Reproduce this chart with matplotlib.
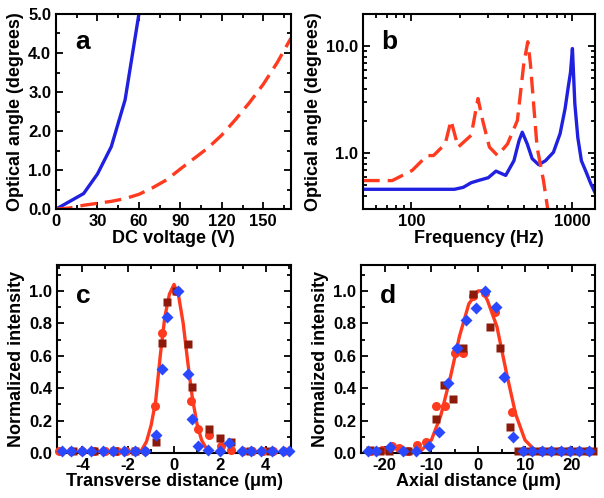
import matplotlib
matplotlib.use("Agg")
import matplotlib.pyplot as plt
from matplotlib.ticker import MultipleLocator, LogLocator, FixedLocator, FormatStrFormatter, NullFormatter

plt.rcParams['font.family'] = ['Liberation Sans', 'DejaVu Sans']
plt.rcParams['font.weight'] = 'bold'
plt.rcParams['axes.labelweight'] = 'bold'
plt.rcParams['axes.unicode_minus'] = False

# panel a: DC response
a_blue_v = [0, 20, 30, 40, 50, 60]
a_blue_ang = [0.0, 0.4, 0.9, 1.6, 2.8, 5.0]
a_red_v = [0, 10, 20, 30, 40, 50, 60, 70, 80, 90, 100, 110, 120, 130, 140, 150, 160, 170]
a_red_ang = [0.0, 0.03, 0.1, 0.15, 0.2, 0.27, 0.38, 0.55, 0.75, 1.03, 1.3, 1.57, 1.9, 2.3, 2.73, 3.2, 3.75, 4.38]

# panel b: frequency response
b_blue_f = [50, 100, 150, 185, 210, 235, 265, 300, 335, 385, 433, 466, 488, 524, 562, 617, 680,
            762, 838, 900, 942, 973, 1000, 1035, 1080, 1137, 1220, 1300, 1380]
b_blue_ang = [0.46, 0.46, 0.46, 0.46, 0.48, 0.53, 0.56, 0.59, 0.68, 0.62, 0.85, 1.31, 1.57, 1.22, 0.89,
              0.78, 0.85, 1.02, 1.52, 2.6, 4.16, 5.7, 9.5, 2.9, 1.4, 0.85, 0.66, 0.52, 0.43]
b_red_f = [50, 76, 101, 125, 137, 162, 176, 195, 235, 259, 277, 305, 343, 395, 455, 499, 528, 548,
           603, 661, 700, 740]
b_red_ang = [0.555, 0.555, 0.69, 0.95, 0.95, 1.22, 2.02, 1.14, 1.47, 3.24, 2.02, 1.14, 0.95, 1.22,
             2.02, 6.9, 11.0, 6.9, 1.14, 0.555, 0.31, 0.2]

# panel c: transverse profile
c_circ_x = [-5.0, -4.5, -4.0, -3.5, -3.0, -2.5, -2.1, -1.7, -1.25, -0.85, -0.53, 0.1, 0.74, 1.05,
            1.52, 2.03, 2.47, 3.0, 3.4, 3.9, 4.3, 4.8]
c_circ_y = [0.01, 0.01, 0.01, 0.01, 0.01, 0.01, 0.01, 0.01, 0.01, 0.29, 0.74, 1.0, 0.32, 0.15,
            0.11, 0.04, 0.02, 0.01, 0.01, 0.01, 0.01, 0.01]
c_sq_x = [-4.4, -3.5, -2.6, -1.7, -0.79, -0.53, -0.31, 0.1, 0.61, 0.79, 1.52, 1.99, 2.47, 3.3, 4.2]
c_sq_y = [0.01, 0.01, 0.01, 0.01, 0.07, 0.68, 0.93, 1.0, 0.67, 0.41, 0.15, 0.09, 0.07, 0.01, 0.01]
c_dia_x = [-4.9, -4.47, -4.03, -3.6, -3.08, -2.64, -2.18, -1.69, -1.26, -0.79, -0.53, -0.31, 0.16,
           0.61, 0.79, 1.05, 1.47, 1.99, 2.39, 2.98, 3.34, 3.78, 4.29, 4.73, 5.02]
c_dia_y = [0.01, 0.01, 0.015, 0.01, 0.01, 0.01, 0.015, 0.01, 0.01, 0.11, 0.52, 0.84, 1.0, 0.49,
           0.21, 0.04, 0.02, 0.01, 0.06, 0.01, 0.015, 0.01, 0.01, 0.01, 0.01]
c_fit_x = [-1.6, -1.4, -1.2, -1.0, -0.8, -0.6, -0.4, -0.2, 0.0, 0.2, 0.4, 0.6, 0.8, 1.0, 1.2, 1.4, 1.6]
c_fit_y = [0.0, 0.02, 0.07, 0.17, 0.32, 0.6, 0.84, 0.98, 1.04, 0.97, 0.8, 0.56, 0.34, 0.18, 0.08, 0.03, 0.0]

# panel d: axial profile
d_circ_x = [-23.0, -20.5, -18.5, -16.9, -15.0, -13.1, -11.1, -9.1, -7.1, -5.0, -3.2, -1.2, 1.4, 3.5,
            7.14, 9.5, 11.5, 13.5, 15.5, 17.5, 19.5, 21.5, 23.5]
d_circ_y = [0.01, 0.02, 0.04, 0.03, 0.01, 0.05, 0.07, 0.29, 0.29, 0.62, 0.62, 0.97, 0.99, 0.87,
            0.255, 0.01, 0.01, 0.01, 0.01, 0.01, 0.01, 0.01, 0.01]
d_sq_x = [-23.2, -21.0, -19.0, -15.0, -9.1, -7.3, -5.4, -3.2, -1.2, 2.5, 4.64, 6.8, 8.6, 10.6, 12.6,
          14.6, 16.6, 18.6, 20.6, 22.6, 24.6]
d_sq_y = [0.02, 0.01, 0.01, 0.01, 0.21, 0.42, 0.33, 0.65, 0.98, 0.78, 0.65, 0.16, 0.01, 0.01, 0.01,
          0.01, 0.01, 0.01, 0.01, 0.01, 0.01]
d_dia_x = [-23.5, -21.8, -18.9, -16.1, -13.2, -10.5, -8.4, -6.4, -4.5, -2.5, -0.5, 1.43, 3.7, 5.57,
           7.5, 9.6, 11.6, 13.6, 15.6, 17.6, 19.6, 21.6, 23.6]
d_dia_y = [0.01, 0.015, 0.035, 0.01, 0.01, 0.04, 0.13, 0.43, 0.65, 0.82, 0.895, 1.0, 0.9, 0.47,
           0.1, 0.01, 0.01, 0.01, 0.01, 0.01, 0.01, 0.01, 0.01]
d_fit_x = [-14, -12, -10, -8, -6, -4, -2, 0, 1, 2, 4, 6, 8, 10, 12, 14]
d_fit_y = [0.0, 0.02, 0.08, 0.23, 0.46, 0.72, 0.92, 1.0, 1.0, 0.94, 0.78, 0.5, 0.24, 0.08, 0.02, 0.0]

BLUE = '#2020e0'
RED = '#ff3a1f'
DARKRED = '#8b1a0a'
DIA = '#2a48ff'

fig = plt.figure(figsize=(6.04, 4.98), dpi=100)
ax_a = fig.add_axes([0.0927, 0.580, 0.389, 0.392])
ax_b = fig.add_axes([0.601, 0.580, 0.384, 0.392])
ax_c = fig.add_axes([0.0944, 0.0904, 0.3874, 0.3775])
ax_d = fig.add_axes([0.598, 0.0904, 0.3874, 0.3775])

for ax in (ax_a, ax_b, ax_c, ax_d):
    for s in ax.spines.values():
        s.set_linewidth(1.5)
    ax.tick_params(which='both', direction='in', top=True, right=True, width=1.3, labelsize=12)
    ax.tick_params(which='major', length=5)
    ax.tick_params(which='minor', length=3)

# a
ax_a.plot(a_blue_v, a_blue_ang, color=BLUE, lw=2.4)
ax_a.plot(a_red_v, a_red_ang, color=RED, lw=2.4, dashes=(5, 2.4))
ax_a.set_xlim(0, 170)
ax_a.set_ylim(0, 5)
ax_a.xaxis.set_major_locator(MultipleLocator(30))
ax_a.xaxis.set_minor_locator(MultipleLocator(15))
ax_a.yaxis.set_major_locator(MultipleLocator(1))
ax_a.yaxis.set_minor_locator(MultipleLocator(0.5))
ax_a.yaxis.set_major_formatter(FormatStrFormatter('%.1f'))
ax_a.set_xlabel('DC voltage (V)', fontsize=13, labelpad=1)
ax_a.set_ylabel('Optical angle (degrees)', fontsize=13, labelpad=3)
ax_a.text(0.08, 0.82, 'a', transform=ax_a.transAxes, fontsize=19, fontweight='bold')

# b
ax_b.plot(b_blue_f, b_blue_ang, color=BLUE, lw=2.4)
ax_b.plot(b_red_f, b_red_ang, color=RED, lw=2.4, dashes=(5, 2.4))
ax_b.set_xscale('log')
ax_b.set_yscale('log')
ax_b.set_xlim(50, 1380)
ax_b.set_ylim(0.3, 20)
ax_b.xaxis.set_major_locator(FixedLocator([100, 1000]))
ax_b.xaxis.set_major_formatter(FormatStrFormatter('%d'))
ax_b.xaxis.set_minor_locator(LogLocator(base=10, subs=range(2, 10)))
ax_b.xaxis.set_minor_formatter(NullFormatter())
ax_b.yaxis.set_major_locator(FixedLocator([1.0, 10.0]))
ax_b.yaxis.set_major_formatter(FormatStrFormatter('%.1f'))
ax_b.yaxis.set_minor_locator(LogLocator(base=10, subs=range(2, 10)))
ax_b.yaxis.set_minor_formatter(NullFormatter())
ax_b.set_xlabel('Frequency (Hz)', fontsize=13, labelpad=1)
ax_b.set_ylabel('Optical angle (degrees)', fontsize=13, labelpad=3)
ax_b.text(0.08, 0.82, 'b', transform=ax_b.transAxes, fontsize=19, fontweight='bold')

# c and d
panels = [
    (ax_c, c_circ_x, c_circ_y, c_sq_x, c_sq_y, c_dia_x, c_dia_y, c_fit_x, c_fit_y, 'c',
     'Transverse distance (μm)', (-5.1, 5.1), 2, 1),
    (ax_d, d_circ_x, d_circ_y, d_sq_x, d_sq_y, d_dia_x, d_dia_y, d_fit_x, d_fit_y, 'd',
     'Axial distance (μm)', (-25, 25), 10, 5),
]
for ax, cx, cy, sx, sy, dx, dy, fx, fy, letter, xl, xlim, maj, mnr in panels:
    ax.plot(cx, cy, 'o', color=RED, ms=6.5, mec='none', clip_on=False, zorder=3)
    ax.plot(fx, fy, '-', color=RED, lw=2.4, zorder=4)
    ax.plot(sx, sy, 's', color=DARKRED, ms=6.2, mec='none', clip_on=False, zorder=5)
    ax.plot(dx, dy, 'D', color=DIA, ms=6.5, mec='none', clip_on=False, zorder=6)
    ax.set_xlim(*xlim)
    ax.set_ylim(0, 1.16)
    ax.xaxis.set_major_locator(MultipleLocator(maj))
    ax.xaxis.set_minor_locator(MultipleLocator(mnr))
    ax.yaxis.set_major_locator(MultipleLocator(0.2))
    ax.yaxis.set_minor_locator(MultipleLocator(0.1))
    ax.yaxis.set_major_formatter(FormatStrFormatter('%.1f'))
    ax.set_xlabel(xl, fontsize=13, labelpad=0)
    ax.set_ylabel('Normalized intensity', fontsize=13, labelpad=3)
    ax.text(0.08, 0.8, letter, transform=ax.transAxes, fontsize=19, fontweight='bold')

fig.savefig('out.png', dpi=100)
